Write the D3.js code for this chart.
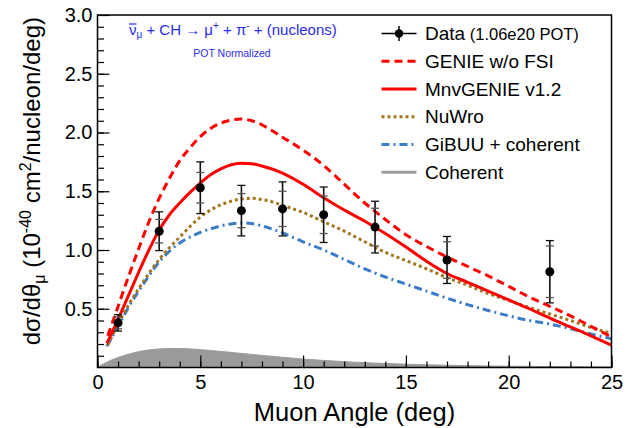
<!DOCTYPE html>
<html>
<head>
<meta charset="utf-8">
<script src="https://cdn.jsdelivr.net/npm/d3@7/dist/d3.min.js"></script>
<style>
  html, body { margin: 0; padding: 0; background: #fff; }
  svg { display: block; font-family: "Liberation Sans", Arial, Helvetica, sans-serif; }
</style>
</head>
<body>
<svg id="chart" width="633" height="428"></svg>
<script>
// Muon angle bins (deg) and measured differential cross section
const dataAngle = [1, 3, 5, 7, 9, 11, 13.5, 17, 22];
const dataValue = [0.38, 1.16, 1.53, 1.335, 1.35, 1.30, 1.195, 0.915, 0.815];
const dataStatErr = [0.05, 0.10, 0.13, 0.145, 0.15, 0.16, 0.16, 0.155, 0.22];
const dataTotErr = [0.07, 0.165, 0.22, 0.215, 0.23, 0.236, 0.22, 0.20, 0.265];

// Model predictions sampled along the angle axis
const genieNoFsiAngle = [0.5, 1, 1.5, 2, 2.5, 3, 3.5, 4, 4.5, 5, 5.5, 6, 6.5, 7, 7.5, 8, 8.5, 9, 10, 11, 12, 13, 14, 15, 16, 17, 18, 19, 20, 21, 22, 23, 24, 25];
const genieNoFsiValue = [0.27, 0.52, 0.77, 1.01, 1.24, 1.44, 1.61, 1.76, 1.87, 1.965, 2.035, 2.08, 2.105, 2.115, 2.10, 2.065, 2.015, 1.96, 1.85, 1.72, 1.56, 1.40, 1.26, 1.13, 1.03, 0.94, 0.86, 0.78, 0.69, 0.60, 0.52, 0.44, 0.35, 0.26];

const mnvAngle = [0.45, 1, 1.5, 2, 2.5, 3, 3.5, 4, 4.5, 5, 5.5, 6, 6.5, 7, 7.5, 8, 9, 10, 11, 12, 13, 14, 15, 16, 17, 18, 19, 20, 21, 22, 23, 24, 25];
const mnvValue = [0.205, 0.41, 0.61, 0.81, 1.0, 1.17, 1.30, 1.40, 1.49, 1.57, 1.64, 1.69, 1.725, 1.738, 1.735, 1.715, 1.655, 1.56, 1.445, 1.34, 1.245, 1.14, 1.025, 0.905, 0.80, 0.725, 0.65, 0.575, 0.50, 0.42, 0.345, 0.27, 0.19];

const nuwroAngle = [0.5, 1, 1.5, 2, 2.5, 3, 3.5, 4, 4.5, 5, 5.5, 6, 6.5, 7, 7.5, 8, 8.5, 9, 10, 11, 12, 13, 14, 15, 16, 17, 18, 19, 20, 21, 22, 23, 24, 25];
const nuwroValue = [0.19, 0.37, 0.53, 0.67, 0.80, 0.92, 1.02, 1.11, 1.20, 1.28, 1.34, 1.385, 1.415, 1.435, 1.44, 1.43, 1.41, 1.38, 1.32, 1.24, 1.16, 1.07, 0.98, 0.91, 0.84, 0.765, 0.70, 0.63, 0.57, 0.51, 0.455, 0.40, 0.34, 0.29];

const gibuuAngle = [0.45, 1, 1.5, 2, 2.5, 3, 3.5, 4, 4.5, 5, 5.5, 6, 6.5, 7, 7.5, 8, 8.5, 9, 10, 11, 12, 13, 14, 15, 16, 17, 18, 19, 20, 21, 22, 23, 24, 25];
const gibuuValue = [0.18, 0.35, 0.51, 0.65, 0.78, 0.90, 0.99, 1.06, 1.11, 1.15, 1.18, 1.205, 1.222, 1.23, 1.225, 1.205, 1.178, 1.145, 1.07, 1.0, 0.92, 0.84, 0.77, 0.71, 0.65, 0.59, 0.535, 0.485, 0.44, 0.40, 0.37, 0.33, 0.285, 0.245];

const coherentAngle = [0, 0.5, 1, 1.5, 2, 2.5, 3, 3.5, 4, 4.5, 5, 6, 7, 8, 9, 10, 11, 12, 13, 14, 15, 16, 17, 18, 19, 20, 22, 25];
const coherentValue = [0, 0.05, 0.085, 0.113, 0.135, 0.15, 0.158, 0.161, 0.161, 0.158, 0.152, 0.137, 0.12, 0.103, 0.087, 0.072, 0.06, 0.05, 0.041, 0.034, 0.028, 0.023, 0.019, 0.016, 0.013, 0.011, 0.008, 0.005];

// Axis ticks
const xMajorTicks = [0, 5, 10, 15, 20, 25];
const yMajorTicks = [0.5, 1.0, 1.5, 2.0, 2.5, 3.0];

const legendLabels = ["Data", "GENIE w/o FSI", "MnvGENIE v1.2", "NuWro", "GiBUU + coherent", "Coherent"];

const svg = d3.select("#chart");
const plotL = 97.5, plotR = 611.5, plotT = 15, plotB = 367.5;

const x = d3.scaleLinear().domain([0, 25]).range([plotL, plotR]);
const y = d3.scaleLinear().domain([0, 3]).range([plotB, plotT]);

const FONT = '"Liberation Sans", Arial, Helvetica, sans-serif';

// Coherent contribution (filled)
const area = d3.area()
  .x((d, i) => x(coherentAngle[i]))
  .y0(y(0))
  .y1((d, i) => y(d))
  .curve(d3.curveMonotoneX);
svg.append("path")
  .attr("d", area(coherentValue))
  .attr("fill", "#9a9a9a")
  .attr("stroke", "#9a9a9a")
  .attr("stroke-width", 1);

// Model curves
const styles = {
  genie: { color: "#ff0000", dash: "8,5", width: 3 },
  mnv: { color: "#ff0000", dash: null, width: 3 },
  nuwro: { color: "#a3741b", dash: "3,3", width: 3 },
  gibuu: { color: "#3b7cc6", dash: "8,4,2,4", width: 3 },
  coherent: { color: "#9a9a9a", dash: null, width: 3 }
};

function drawCurve(xs, ys, st) {
  const line = d3.line()
    .x((d, i) => x(xs[i]))
    .y(d => y(d))
    .curve(d3.curveMonotoneX);
  const p = svg.append("path")
    .attr("d", line(ys))
    .attr("fill", "none")
    .attr("stroke", st.color)
    .attr("stroke-width", st.width)
    .attr("stroke-linejoin", "round");
  if (st.dash) p.attr("stroke-dasharray", st.dash);
}
drawCurve(gibuuAngle, gibuuValue, styles.gibuu);
drawCurve(nuwroAngle, nuwroValue, styles.nuwro);
drawCurve(genieNoFsiAngle, genieNoFsiValue, styles.genie);
drawCurve(mnvAngle, mnvValue, styles.mnv);

// Data points with stat and total error bars
const capW = 4;
const pts = svg.append("g");
dataAngle.forEach((a, i) => {
  const cx = x(a), v = dataValue[i];
  pts.append("line")
    .attr("x1", cx).attr("x2", cx)
    .attr("y1", y(v - dataTotErr[i])).attr("y2", y(v + dataTotErr[i]))
    .attr("stroke", "#111").attr("stroke-width", 1.6);
  [v - dataTotErr[i], v + dataTotErr[i]].forEach(e => {
    pts.append("line")
      .attr("x1", cx - capW).attr("x2", cx + capW)
      .attr("y1", y(e)).attr("y2", y(e))
      .attr("stroke", "#111").attr("stroke-width", 1.3);
  });
  [v - dataStatErr[i], v + dataStatErr[i]].forEach(e => {
    pts.append("line")
      .attr("x1", cx - capW).attr("x2", cx + capW)
      .attr("y1", y(e)).attr("y2", y(e))
      .attr("stroke", "#555").attr("stroke-width", 1.3);
  });
  pts.append("circle")
    .attr("cx", cx).attr("cy", y(v)).attr("r", 4.5)
    .attr("fill", "#000");
});

// Frame
svg.append("rect")
  .attr("x", plotL).attr("y", plotT)
  .attr("width", plotR - plotL).attr("height", plotB - plotT)
  .attr("fill", "none").attr("stroke", "#000").attr("stroke-width", 1.5);

// Axes: major + minor ticks pointing inward
const xAxis = d3.axisBottom(x).tickValues(xMajorTicks).tickSize(-12).tickPadding(7).tickFormat(d3.format("d"));
const xMinor = d3.axisBottom(x).tickValues(d3.range(0, 26, 1)).tickSize(-6).tickFormat("");
const yAxis = d3.axisLeft(y).tickValues(yMajorTicks).tickSize(-12).tickPadding(5).tickFormat(d3.format(".1f"));
const yMinor = d3.axisLeft(y).tickValues(d3.range(1, 30, 1).map(d => d / 10)).tickSize(-6.5).tickFormat("");

function styleAxis(g) {
  g.select(".domain").remove();
  g.selectAll(".tick line").attr("stroke", "#000").attr("stroke-width", 1.2);
  g.selectAll("text").attr("font-family", FONT).attr("font-size", 20).attr("fill", "#000");
}
svg.append("g").attr("transform", `translate(0,${plotB})`).call(xMinor).call(styleAxis);
svg.append("g").attr("transform", `translate(0,${plotB})`).call(xAxis).call(styleAxis);
svg.append("g").attr("transform", `translate(${plotL},0)`).call(yMinor).call(styleAxis);
svg.append("g").attr("transform", `translate(${plotL},0)`).call(yAxis).call(styleAxis);

// Axis titles
svg.append("text")
  .attr("x", (plotL + plotR) / 2).attr("y", 421)
  .attr("text-anchor", "middle")
  .attr("font-family", FONT).attr("font-size", 25.5)
  .text("Muon Angle (deg)");

const yt = svg.append("text")
  .attr("transform", "translate(40,17) rotate(-90)")
  .attr("text-anchor", "end")
  .attr("font-family", FONT).attr("font-size", 24);
yt.append("tspan").text("dσ/dθ");
yt.append("tspan").attr("font-size", 16).attr("dy", 5).text("μ");
yt.append("tspan").attr("dy", -5).text(" (10");
yt.append("tspan").attr("font-size", 16).attr("dy", -9).text("-40");
yt.append("tspan").attr("dy", 9).text(" cm");
yt.append("tspan").attr("font-size", 16).attr("dy", -9).text("2");
yt.append("tspan").attr("dy", 9).text("/nucleon/deg)");

// Process label
const blue = "#2b2bf0";
const pt = svg.append("text")
  .attr("x", 129).attr("y", 35)
  .attr("font-family", FONT).attr("font-size", 15)
  .attr("fill", blue);
pt.append("tspan").text("ν");
pt.append("tspan").attr("font-size", 10).attr("dy", 3).text("μ");
pt.append("tspan").attr("dy", -3).text(" + CH → μ");
pt.append("tspan").attr("font-size", 10).attr("dy", -6).text("+");
pt.append("tspan").attr("dy", 6).text(" + π");
pt.append("tspan").attr("font-size", 10).attr("dy", -6).text("-");
pt.append("tspan").attr("dy", 6).text(" + (nucleons)");
// bar over the antineutrino symbol
{
  const node = pt.node();
  const s = node.getStartPositionOfChar(0);
  const e = node.getEndPositionOfChar(0);
  svg.append("line")
    .attr("x1", s.x).attr("x2", e.x)
    .attr("y1", 35 - 11).attr("y2", 35 - 11)
    .attr("stroke", blue).attr("stroke-width", 1.2);
}

svg.append("text")
  .attr("x", 232).attr("y", 57)
  .attr("text-anchor", "middle")
  .attr("font-family", FONT).attr("font-size", 10.5)
  .attr("fill", blue)
  .text("POT Normalized");

// Legend
const legX0 = 381.5, legX1 = 416.5, legTextX = 425;
const rowY = [33.5, 61.2, 89, 116.7, 144.4, 172.2];
const lg = svg.append("g");
// Data entry
lg.append("line").attr("x1", legX0).attr("x2", legX1).attr("y1", rowY[0]).attr("y2", rowY[0])
  .attr("stroke", "#000").attr("stroke-width", 1.5);
lg.append("line").attr("x1", (legX0 + legX1) / 2).attr("x2", (legX0 + legX1) / 2)
  .attr("y1", rowY[0] - 7.5).attr("y2", rowY[0] + 7.5)
  .attr("stroke", "#000").attr("stroke-width", 1.5);
lg.append("circle").attr("cx", (legX0 + legX1) / 2).attr("cy", rowY[0]).attr("r", 4.2).attr("fill", "#000");
const dataLabel = lg.append("text").attr("x", legTextX).attr("y", rowY[0] + 6.5)
  .attr("font-family", FONT).attr("font-size", 19);
dataLabel.append("tspan").text(legendLabels[0]);
dataLabel.append("tspan").attr("font-size", 16.5).text(" (1.06e20 POT)");

const legStyles = [styles.genie, styles.mnv, styles.nuwro, styles.gibuu, styles.coherent];
legStyles.forEach((st, k) => {
  const yy = rowY[k + 1];
  const l = lg.append("line").attr("x1", legX0).attr("x2", legX1).attr("y1", yy).attr("y2", yy)
    .attr("stroke", st.color).attr("stroke-width", st.width);
  if (st.dash) l.attr("stroke-dasharray", st.dash);
  lg.append("text").attr("x", legTextX).attr("y", yy + 6.5)
    .attr("font-family", FONT).attr("font-size", 19)
    .text(legendLabels[k + 1]);
});
</script>
</body>
</html>
